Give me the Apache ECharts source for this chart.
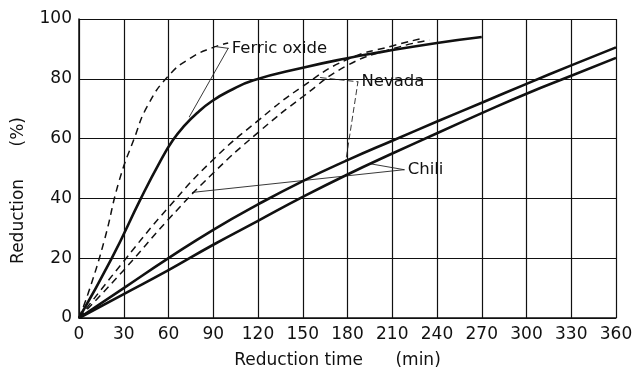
<!DOCTYPE html>
<html>
<head>
<meta charset="utf-8">
<script src="https://cdn.jsdelivr.net/npm/echarts@6/dist/echarts.min.js"></script>
<style>
  html, body { margin: 0; padding: 0; background: #fff; }
  #chart { width: 637px; height: 374px; }
</style>
</head>
<body>
<div id="chart"></div>
<script>
// reduction (%) vs reduction time (min)
const ferricDashed = [[0,0],[7,9.5],[17,26],[27,46],[37,60],[46,71],[60,81],[75,87],[90,90.5],[100,92]];
const ferricSolid  = [[0,0],[22,20],[41.5,40],[54,52],[63,59.5],[71,64.5],[79,68.5],[89,72.5],[101,76],[117,79.5],[150,83.7],[179,86.8],[203,89],[240,92],[270,94]];
const nevadaDashed = [[0,0],[30,19],[60,37],[90,53],[120,66],[150,77.5],[180,86.5],[210,91],[230,93.5]];
const chiliDashed  = [[0,0],[30,16],[60,33],[90,48.5],[120,62],[150,74],[180,84.5],[210,90],[235,93]];
const nevadaSolid  = [[0,0],[30,10],[60,20],[90,29.5],[120,38],[150,45.8],[180,52.8],[210,59.3],[240,65.7],[270,72],[300,78.3],[330,84.5],[360,90.5]];
const chiliSolid   = [[0,0],[30,8],[60,16],[90,24.5],[120,32.5],[150,40.5],[180,48],[210,55],[240,61.8],[270,68.5],[300,75],[330,81],[360,87]];

// leader lines: [tip, label point, tip]
const ferricLeader = [[91,90.8],[100,90.2],[74,67.3]];
const nevadaLeader = [[162,80.4],[187,79],[179,53]];
const chiliLeader  = [[76,42],[218,49.6],[195,51.6]];
const labels = ['Ferric oxide', 'Nevada', 'Chili'];

const chart = echarts.init(document.getElementById('chart'), null, { renderer: 'canvas' });

const FONT = 'DejaVu Sans';

function curve(data, dashed) {
  return {
    type: 'line', data, smooth: 0.5, symbol: 'none', silent: true,
    lineStyle: dashed
      ? { color: '#111', width: 1.5, type: [7, 5] }
      : { color: '#111', width: 2.6 },
  };
}

function leader(pts, text, dashed) {
  return {
    type: 'line', silent: true, z: 1,
    symbol: 'circle', symbolSize: 1, showSymbol: true,
    itemStyle: { color: '#222' },
    lineStyle: { color: '#222', width: 0.9, type: dashed ? [6, 3] : 'solid' },
    data: [
      { value: pts[0] },
      {
        value: pts[1],
        label: {
          show: true, position: 'right', distance: 3, formatter: text,
          color: '#111', fontFamily: FONT, fontSize: 16.5,
        },
      },
      { value: pts[2] },
    ],
  };
}

chart.setOption({
  animation: false,
  backgroundColor: '#fff',
  grid: { left: 79, right: 21, top: 19, bottom: 56 },
  xAxis: {
    type: 'value', min: 0, max: 360, interval: 30,
    name: 'Reduction time      (min)', nameLocation: 'middle', nameGap: 34,
    nameTextStyle: { color: '#111', fontFamily: FONT, fontSize: 17, padding: [0, 20, 0, 0] },
    axisLine: { show: true, lineStyle: { color: '#111', width: 1.5 } },
    axisTick: { show: false },
    axisLabel: { color: '#111', fontFamily: FONT, fontSize: 17, margin: 8 },
    splitLine: { show: true, lineStyle: { color: '#111', width: 1.2 } },
  },
  yAxis: {
    type: 'value', min: 0, max: 100, interval: 20,
    name: 'Reduction      (%)', nameLocation: 'middle', nameGap: 52,
    nameTextStyle: { color: '#111', fontFamily: FONT, fontSize: 17, padding: [0, 44, 0, 0] },
    axisLine: { show: true, lineStyle: { color: '#111', width: 1.5 } },
    axisTick: { show: false },
    axisLabel: { color: '#111', fontFamily: FONT, fontSize: 17, margin: 7 },
    splitLine: { show: true, lineStyle: { color: '#111', width: 1.2 } },
  },
  series: [
    curve(ferricDashed, true),
    curve(ferricSolid, false),
    curve(nevadaDashed, true),
    curve(chiliDashed, true),
    curve(nevadaSolid, false),
    curve(chiliSolid, false),
    leader(ferricLeader, labels[0], false),
    leader(nevadaLeader, labels[1], true),
    leader(chiliLeader, labels[2], false),
  ],
});
</script>
</body>
</html>
